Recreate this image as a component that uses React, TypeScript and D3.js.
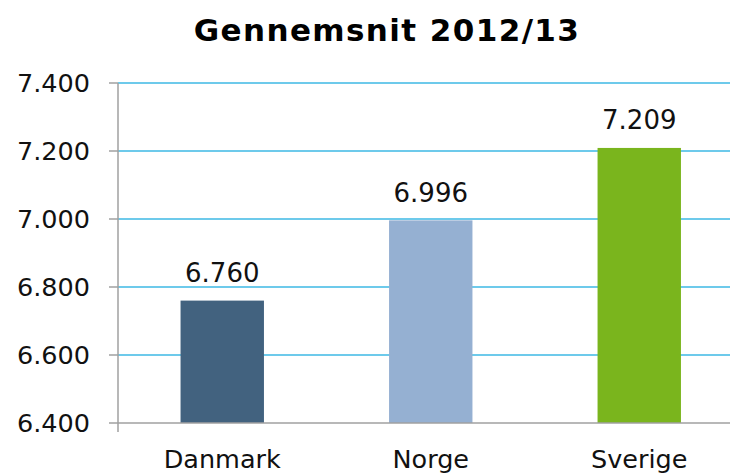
import React from 'react';
import * as d3 from 'd3';

const countries = ['Danmark', 'Norge', 'Sverige'];
const values = [6.76, 6.996, 7.209];
const labels = ['6.760', '6.996', '7.209'];
const colors = ['#42627f', '#95b0d2', '#7ab51d'];
const ticks = [6.4, 6.6, 6.8, 7.0, 7.2, 7.4];
const tickLabels = ['6.400', '6.600', '6.800', '7.000', '7.200', '7.400'];

const W = 730;
const H = 473;
const left = 118;
const top = 83;
const bottom = 423;

export default function App() {
  const x = d3.scaleBand().domain(countries).range([left, 743.5]).paddingInner(0.6).paddingOuter(0.3);
  const y = d3.scaleLinear().domain([6.4, 7.4]).range([bottom, top]);
  const font = 'DejaVu Sans, Verdana, sans-serif';

  return (
    <svg width={W} height={H} style={{ position: 'absolute', left: 0, top: 0, background: '#fff' }}>
      <text x={387} y={41} textAnchor="middle" fontFamily={font} fontWeight="bold" fontSize={31} letterSpacing={1.4} fill="#000">
        Gennemsnit 2012/13
      </text>
      {ticks.map((t, i) => (
        <g key={t}>
          {i > 0 && <line x1={left} x2={W} y1={y(t)} y2={y(t)} stroke="#3cb8e4" strokeWidth={1.5} />}
          <line x1={left - 9} x2={left} y1={y(t)} y2={y(t)} stroke="#a0a0a0" strokeWidth={1.5} />
          <text x={90} y={y(t) + 8.5} textAnchor="end" fontFamily={font} fontSize={25.5} fill="#111">
            {tickLabels[i]}
          </text>
        </g>
      ))}
      {countries.map((c, i) => (
        <g key={c}>
          <rect x={x(c)} y={y(values[i])} width={x.bandwidth()} height={bottom - y(values[i])} fill={colors[i]} />
          <text x={(x(c) as number) + x.bandwidth() / 2} y={y(values[i]) - 18.5} textAnchor="middle" fontFamily={font} fontSize={26} fill="#111">
            {labels[i]}
          </text>
          <text x={(x(c) as number) + x.bandwidth() / 2} y={468} textAnchor="middle" fontFamily={font} fontSize={25.5} fill="#111">
            {c}
          </text>
        </g>
      ))}
      <line x1={left} x2={left} y1={top} y2={bottom + 9} stroke="#a0a0a0" strokeWidth={1.5} />
      <line x1={left} x2={W} y1={bottom} y2={bottom} stroke="#a0a0a0" strokeWidth={1.5} />
    </svg>
  );
}
